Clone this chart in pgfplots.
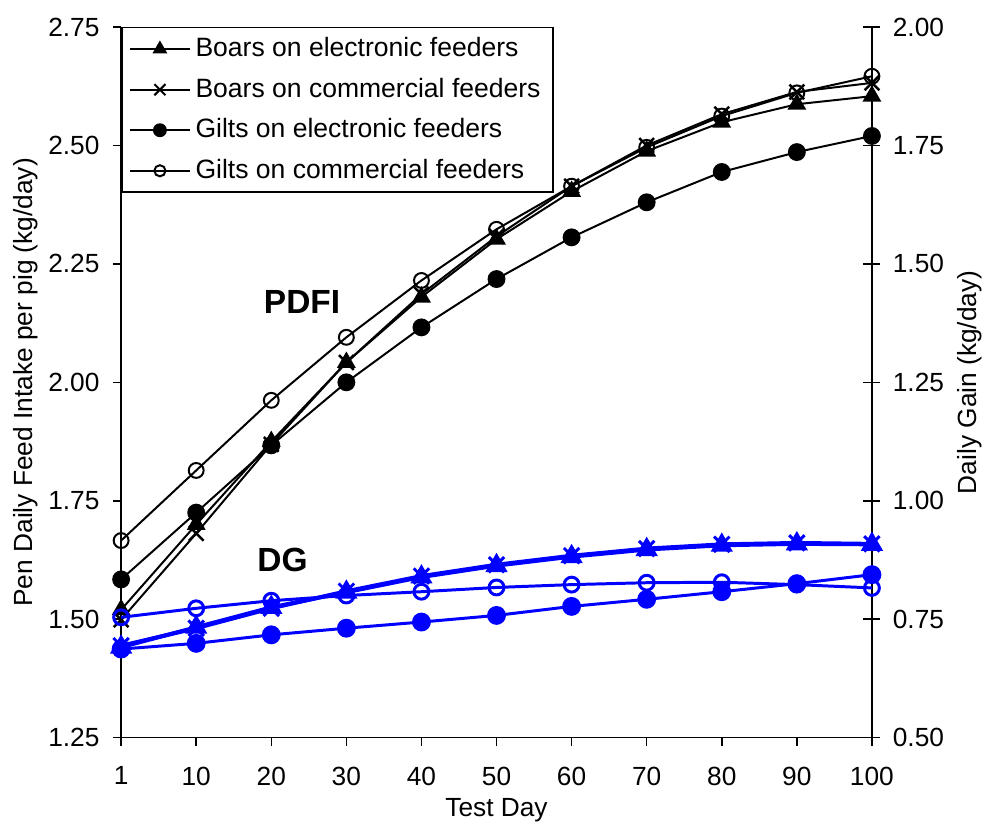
\documentclass[border=0pt]{standalone}
\usepackage{pgfplots}
\pgfplotsset{compat=1.18}
\usepackage{fontspec}
\setmainfont{Liberation Sans}

% pen daily feed intake (left axis), x = index of test day
\pgfplotstableread{
x be bc ge gc
0 1.520 1.499 1.584 1.666
1 1.700 1.681 1.725 1.814
2 1.875 1.869 1.867 1.962
3 2.042 2.042 2.000 2.095
4 2.180 2.186 2.116 2.215
5 2.302 2.308 2.218 2.323
6 2.403 2.414 2.306 2.414
7 2.488 2.500 2.380 2.496
8 2.549 2.566 2.444 2.562
9 2.587 2.613 2.486 2.611
10 2.604 2.632 2.520 2.646
}\pdfi

% daily gain (right axis)
\pgfplotstableread{
x be bc ge gc
0 0.691 0.694 0.687 0.754
1 0.733 0.731 0.699 0.773
2 0.775 0.773 0.717 0.789
3 0.807 0.809 0.731 0.800
4 0.839 0.841 0.744 0.808
5 0.863 0.865 0.758 0.817
6 0.882 0.884 0.777 0.823
7 0.897 0.899 0.792 0.827
8 0.906 0.908 0.808 0.828
9 0.909 0.911 0.825 0.823
10 0.908 0.909 0.844 0.816
}\dg

\begin{document}
\begin{tikzpicture}
\pgfplotsset{
  base/.style={
    scale only axis, width=302.8pt, height=286.6pt,
    xmin=0, xmax=10, clip=false,
    axis line style={-, line width=0.6pt},
    tick style={black, line width=0.6pt},
    ticklabel style={font=\fontsize{10.6}{12.5}\selectfont},
    label style={font=\fontsize{10.6}{12.5}\selectfont},
    /pgf/number format/assume math mode=true,
    yticklabel style={/pgf/number format/fixed, /pgf/number format/fixed zerofill, /pgf/number format/precision=2},
  },
  blk/.style={black, line width=0.8pt},
  blu/.style={blue, line width=1.2pt},
}
\begin{axis}[base, name=ax,
  ymin=1.25, ymax=2.75, ytick={1.25,1.5,...,2.75},
  xtick={0,...,10}, xticklabels={1,10,20,30,40,50,60,70,80,90,100},
  axis x line*=bottom, axis y line*=left,
  tick align=outside, major tick length=3.2pt,
  xticklabel style={yshift=-5pt},
  yticklabel style={xshift=-2pt},
  xlabel={Test Day}, ylabel={Pen Daily Feed Intake per pig (kg/day)},
  xlabel style={yshift=1.5pt}, ylabel style={yshift=-2.5pt},
  legend style={at={(0,1)}, anchor=north west, draw=black, line width=0.6pt,
    font=\fontsize{10.7}{12.6}\selectfont, row sep=3.1pt, inner xsep=3pt, inner ysep=2pt,
    cells={anchor=west}},
  legend image code/.code={\draw[mark repeat=2,mark phase=2,mark options={scale=0.75},#1] plot coordinates {(0cm,0cm) (0.42cm,0cm) (0.84cm,0cm)};},
]
\addplot[blk, mark=triangle*, mark size=3.6pt] table[x=x, y=be] {\pdfi};
\addlegendentry{Boars on electronic feeders}
\addplot[blk, mark=x, mark size=4.2pt, mark options={line width=1pt}] table[x=x, y=bc] {\pdfi};
\addlegendentry{Boars on commercial feeders}
\addplot[blk, mark=*, mark size=3.2pt] table[x=x, y=ge] {\pdfi};
\addlegendentry{Gilts on electronic feeders}
\addplot[blk, mark=o, mark size=3pt] table[x=x, y=gc] {\pdfi};
\addlegendentry{Gilts on commercial feeders}
\node[font=\bfseries\fontsize{13.5}{15}\selectfont] at (axis cs:2.41,2.169) {PDFI};
\node[font=\bfseries\fontsize{13.5}{15}\selectfont] at (axis cs:2.15,1.624) {DG};
\end{axis}
\begin{axis}[base,
  ymin=0.5, ymax=2.0, ytick={0.5,0.75,...,2.0},
  axis x line=none, axis y line*=right,
  tick align=center, major tick length=6.8pt,
  yticklabel style={xshift=1.5pt},
  ylabel={Daily Gain (kg/day)}, ylabel style={yshift=1.5pt},
]
\addplot[blu, line width=1.6pt, mark=triangle*, mark size=3.6pt] table[x=x, y=be] {\dg};
\addplot[blu, line width=1.6pt, mark=x, mark size=4.4pt, mark options={line width=1.2pt}] table[x=x, y=bc] {\dg};
\addplot[blu, mark=*, mark size=3.2pt] table[x=x, y=ge] {\dg};
\addplot[blu, mark=o, mark size=3pt] table[x=x, y=gc] {\dg};
\end{axis}
\pgfresetboundingbox
\path[use as bounding box] ([xshift=-48.85pt,yshift=-35.5pt]ax.south west) rectangle ([xshift=44.8pt,yshift=10.9pt]ax.north east);
\end{tikzpicture}
\end{document}
